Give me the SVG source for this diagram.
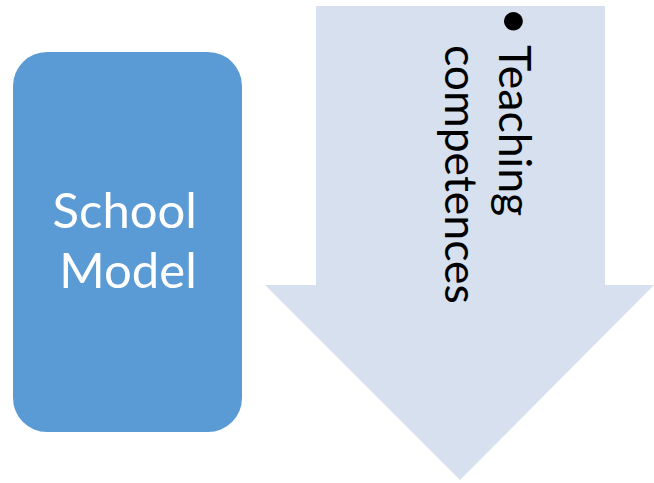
<svg xmlns="http://www.w3.org/2000/svg" width="654" height="483" viewBox="0 0 654 483">
<style>
.lbl{font-family:Lato,"Liberation Sans",sans-serif;}
</style>
<rect width="654" height="483" fill="#ffffff"/>
<g id="connectors"></g>
<g id="arrow">
<polygon points="316,6 605,6 605,285 654,285 460,480 265,285 316,285" fill="#D6E0EE"/>
<text class="lbl" transform="translate(499,0) rotate(90)" font-size="44.5" fill="#000000">
<tspan x="27" y="1" text-anchor="middle" font-size="50">•</tspan>
<tspan x="45" y="0">Teaching</tspan>
<tspan x="45" y="54">competences</tspan>
</text>
</g>
<g id="school-model">
<rect x="13" y="52" width="229" height="380" rx="34" ry="34" fill="#5B9BD5"/>
<text class="lbl" font-size="49" fill="#ffffff" text-anchor="middle">
<tspan x="131" y="228">School</tspan>
<tspan x="128" y="288">Model</tspan>
</text>
</g>
</svg>
